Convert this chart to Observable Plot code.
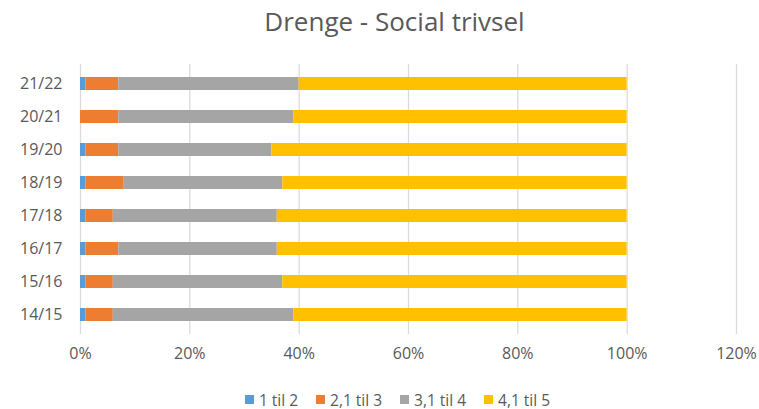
<!DOCTYPE html>
<html><head><meta charset="utf-8">
<script src="https://cdn.jsdelivr.net/npm/d3@7"></script>
<script src="https://cdn.jsdelivr.net/npm/@observablehq/plot@0.6"></script>
<style>
body{margin:0;background:#fff;font-family:"Open Sans",sans-serif;}
#wrap{width:759px;height:409px;position:relative;overflow:hidden;}
#title{position:absolute;top:3px;left:15px;width:759px;text-align:center;font-size:26px;color:#595959;line-height:36px;}
#chart{position:absolute;top:45px;left:0;}
#legend{position:absolute;top:388px;left:18px;width:759px;text-align:center;font-size:15.5px;color:#595959;line-height:20px;}
#legend span{margin:0 9px;display:inline-flex;align-items:center;}
#legend i{display:inline-block;width:9px;height:9px;margin-right:5px;}
</style></head><body>
<div id="wrap"><div id="title">Drenge - Social trivsel</div><div id="chart"></div><div id="legend"></div></div>
<script>
const years = ["21/22","20/21","19/20","18/19","17/18","16/17","15/16","14/15"];
const series = ["1 til 2","2,1 til 3","3,1 til 4","4,1 til 5"];
const colors = ["#5B9BD5","#ED7D31","#A5A5A5","#FFC000"];
const s1 = [1,0,1,1,1,1,1,1];
const s2 = [6,7,6,7,5,6,5,5];
const s3 = [33,32,28,29,30,29,31,33];
const s4 = [60,61,65,63,64,64,63,61];
const xTicks = [0,0.2,0.4,0.6,0.8,1.0,1.2];

const vals = [s1,s2,s3,s4];
const data = [];
years.forEach((y,i)=>series.forEach((s,j)=>data.push({year:y,series:s,value:vals[j][i]/100})));

const chart = Plot.plot({
  width:759,height:330,
  marginLeft:80,marginRight:23,marginTop:22,marginBottom:44,
  style:{fontSize:"16px",color:"#595959",fontFamily:"'Open Sans',sans-serif",overflow:"visible"},
  x:{domain:[0,1.2],ticks:xTicks,tickFormat:d=>Math.round(d*100)+"%",label:null},
  y:{domain:years,label:null,paddingInner:0.6,paddingOuter:0.3},
  color:{domain:series,range:colors},
  marks:[
    Plot.gridX(xTicks,{stroke:"#d9d9d9",strokeOpacity:1,strokeWidth:1.2,insetTop:-3,insetBottom:-3}),
    Plot.axisX({ticks:xTicks,tickFormat:d=>Math.round(d*100)+"%",tickSize:0,tickPadding:16,label:null,fontSize:16}),
    Plot.axisY({tickSize:0,tickPadding:18,label:null,fontSize:16}),
    Plot.barX(data,Plot.stackX({x:"value",y:"year",fill:"series",order:series}))
  ]
});
document.getElementById("chart").appendChild(chart);
const lg=document.getElementById("legend");
series.forEach((s,i)=>{const sp=document.createElement("span");sp.innerHTML=`<i style="background:${colors[i]}"></i>${s}`;lg.appendChild(sp);});
</script></body></html>
